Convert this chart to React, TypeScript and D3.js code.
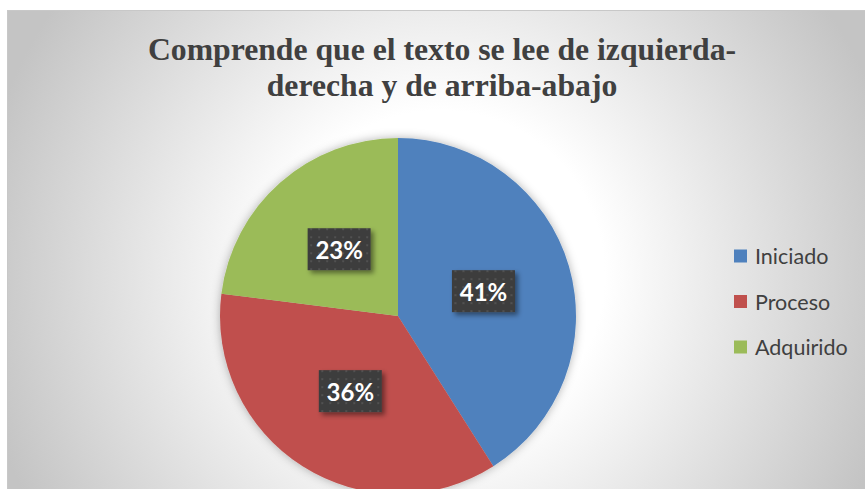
import React from "react";
import * as d3 from "d3";

const categories = ["Iniciado", "Proceso", "Adquirido"];
const values = [41, 36, 23];
const colors = ["#4F81BD", "#C0504D", "#9BBB59"];
const titleLines = ["Comprende que el texto se lee de izquierda-", "derecha y de arriba-abajo"];

const W = 865;
const H = 489;

export default function App() {
  const cx = 398;
  const cy = 316;
  const r = 178;
  const total = d3.sum(values);
  const pie = d3.pie<number>().sort(null).value((d) => d)(values);
  const arc = d3.arc<d3.PieArcDatum<number>>().innerRadius(0).outerRadius(r);
  const labelArc = d3.arc<d3.PieArcDatum<number>>().innerRadius(r * 0.5).outerRadius(r * 0.5);
  const legendY = d3.scalePoint<string>().domain(categories).range([256, 347]);

  return (
    <svg width={W} height={H} style={{ position: "absolute", left: 0, top: 0 }}>
      <defs>
        <radialGradient id="bg" gradientUnits="userSpaceOnUse" cx={440} cy={275} r={470}>
          <stop offset="0" stopColor="#ffffff" />
          <stop offset="0.35" stopColor="#ffffff" />
          <stop offset="1" stopColor="#c4c4c4" />
        </radialGradient>
        <filter id="pieShadow" x="-20%" y="-20%" width="140%" height="140%">
          <feDropShadow dx="0" dy="0" stdDeviation="5" floodColor="#000" floodOpacity="0.3" />
        </filter>
        <filter id="boxShadow" x="-30%" y="-30%" width="160%" height="160%">
          <feDropShadow dx="3" dy="3" stdDeviation="2.5" floodColor="#000" floodOpacity="0.45" />
        </filter>
        <pattern id="dots" width="8" height="8" patternUnits="userSpaceOnUse">
          <rect width="8" height="8" fill="#3d3d3d" />
          <circle cx="4" cy="4" r="1" fill="#575757" />
        </pattern>
      </defs>
      <rect x={0} y={0} width={W} height={H} fill="#ffffff" />
      <rect x={7.5} y={10.5} width={W} height={H + 40} fill="url(#bg)" stroke="#c8c8c8" strokeWidth={1} />
      {titleLines.map((t, i) => (
        <text
          key={i}
          x={442}
          y={60 + i * 36}
          textAnchor="middle"
          fontFamily="'Liberation Serif', 'Times New Roman', serif"
          fontWeight="bold"
          fontSize={31.7}
          fill="#404040"
        >
          {t}
        </text>
      ))}
      <g transform={`translate(${cx},${cy})`}>
        <g filter="url(#pieShadow)">
          {pie.map((p, i) => (
            <path key={i} d={arc(p) || ""} fill={colors[i]} />
          ))}
        </g>
        {pie.map((p, i) => {
          const [lx, ly] = labelArc.centroid(p);
          const bw = 63;
          const bh = 42;
          return (
            <g key={i} transform={`translate(${lx},${ly})`}>
              <rect x={-bw / 2} y={-bh / 2} width={bw} height={bh} fill="url(#dots)" filter="url(#boxShadow)" />
              <text
                textAnchor="middle"
                dominantBaseline="central"
                fontFamily="Lato, 'Open Sans', sans-serif"
                fontWeight="bold"
                fontSize={24}
                fill="#ffffff"
              >
                {Math.round((values[i] / total) * 100)}%
              </text>
            </g>
          );
        })}
      </g>
      {categories.map((c, i) => (
        <g key={c} transform={`translate(734,${legendY(c)})`}>
          <rect x={0} y={-6.5} width={13} height={13} fill={colors[i]} />
          <text
            x={21}
            y={0}
            dominantBaseline="central"
            fontFamily="Lato, 'Open Sans', sans-serif"
            fontSize={21.5}
            fill="#404040"
          >
            {c}
          </text>
        </g>
      ))}
    </svg>
  );
}
